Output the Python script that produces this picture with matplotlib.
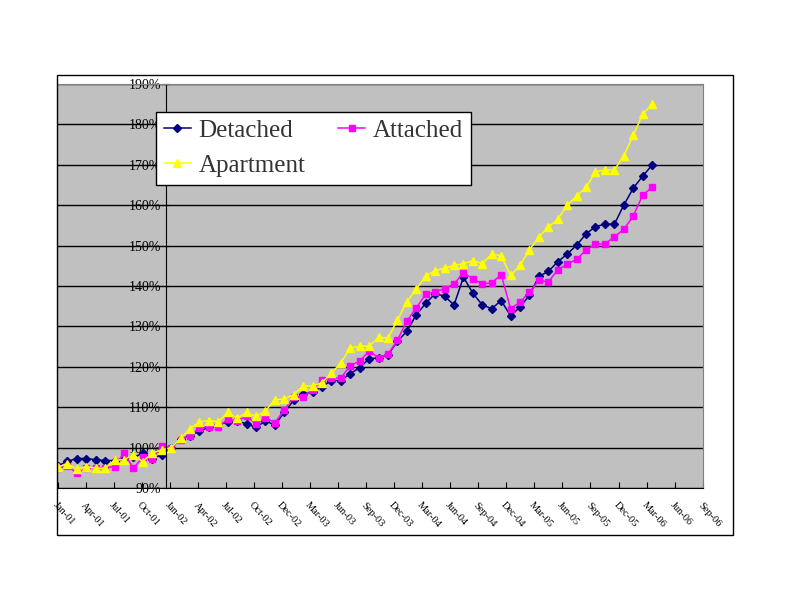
import numpy as np
import matplotlib
matplotlib.use("Agg")
import matplotlib.pyplot as plt
from matplotlib.patches import Rectangle

plt.rcParams['font.family'] = ['Liberation Serif', 'DejaVu Serif']

# monthly index values, Jan-02 = 100%
detached = [95.5, 96.6, 97.3, 97.3, 97.0, 96.8, 96.8, 97.3, 97.6, 98.6, 97.3, 98.2, 100.0,
            102.1, 102.9, 104.1, 105.0, 105.6, 106.4, 106.6, 105.9, 105.0, 106.6, 105.6, 108.7, 111.7, 113.2,
            113.8, 115.1, 116.6, 116.6, 118.3, 119.8, 122.0, 122.2, 123.0, 126.3, 128.8, 132.9, 135.7,
            138.1, 137.5, 135.3, 142.2, 138.2, 135.3, 134.4, 136.4, 132.6, 134.8, 137.7, 142.4,
            143.6, 146.0, 147.9, 150.1, 152.9, 154.7, 155.3, 155.3, 160.0, 164.2, 167.2, 169.9]
attached = [95.0, 95.5, 93.6, 94.9, 95.0, 95.0, 95.3, 98.7, 94.9, 97.6, 97.1, 100.5, 100.0,
            102.0, 102.9, 104.8, 105.2, 105.2, 107.0, 106.6, 107.7, 105.9, 107.4, 106.2, 109.3, 112.6, 112.6,
            114.3, 116.7, 117.2, 117.2, 120.3, 121.4, 123.9, 122.2, 123.1, 126.6, 131.3, 134.6, 138.0,
            138.6, 139.3, 140.5, 143.3, 141.8, 140.5, 140.8, 142.8, 134.4, 136.0, 138.5, 141.4,
            141.0, 144.0, 145.4, 146.6, 148.9, 150.4, 150.4, 152.2, 154.0, 157.3, 162.5, 164.4]
apartment = [95.2, 96.0, 94.7, 95.3, 94.9, 94.9, 96.9, 97.0, 98.2, 96.5, 98.7, 99.4, 100.0,
             102.3, 104.6, 106.4, 106.7, 106.4, 108.7, 107.3, 108.7, 107.7, 109.1, 111.8, 112.1, 113.1, 115.3,
             115.2, 116.1, 118.4, 121.0, 124.7, 125.1, 125.1, 127.3, 127.1, 131.6, 136.1, 139.2, 142.5,
             143.8, 144.4, 145.1, 145.5, 146.3, 145.5, 147.9, 147.5, 142.6, 145.1, 149.0, 152.1,
             154.6, 156.5, 160.0, 162.3, 164.4, 168.3, 168.7, 168.7, 172.2, 177.3, 182.5, 185.0]

tick_labels = ['Jan-01', 'Apr-01', 'Jul-01', 'Oct-01', 'Jan-02', 'Apr-02', 'Jul-02', 'Oct-02',
               'Dec-02', 'Mar-03', 'Jun-03', 'Sep-03', 'Dec-03', 'Mar-04', 'Jun-04', 'Sep-04',
               'Dec-04', 'Mar-05', 'Jun-05', 'Sep-05', 'Dec-05', 'Mar-06', 'Jun-06', 'Sep-06']
y_ticks = list(range(90, 200, 10))

W, H = 792, 612
fig = plt.figure(figsize=(W / 100, H / 100), dpi=100)
fig.patch.set_facecolor('white')

# outer chart border
fig.patches.append(Rectangle((57 / W, 1 - 535 / H), (733 - 57) / W, (535 - 75) / H,
                             transform=fig.transFigure, fill=False,
                             edgecolor='black', linewidth=1))

ax = fig.add_axes([57 / W, 1 - 488 / H, (703 - 57) / W, (488 - 84) / H])
ax.set_facecolor('#C0C0C0')

x = np.arange(len(detached))
l1, = ax.plot(x, detached, color='#000080', marker='D', markersize=4, linewidth=1.1, label='Detached')
l2, = ax.plot(x, attached, color='#FF00FF', marker='s', markersize=4.8, linewidth=1.1, label='Attached')
l3, = ax.plot(x, apartment, color='#FFFF00', marker='^', markersize=5.3, linewidth=1.1, label='Apartment')

step = 2.972
ax.set_xlim(-0.1, 68.4)
ax.set_ylim(90, 190)
ax.set_xticks([k * step for k in range(len(tick_labels))])
ax.set_xticklabels(tick_labels, rotation=-48, ha='left', va='top',
                   rotation_mode='anchor', fontsize=7.5)
ax.set_yticks(y_ticks)
ax.set_yticklabels([f'{v}%' for v in y_ticks], fontsize=7)

ax.yaxis.grid(True, color='black', linewidth=1)
ax.set_axisbelow(True)

ax.spines['left'].set_position(('data', 11.5))
ax.spines['left'].set_color('black')
ax.spines['bottom'].set_color('black')
ax.spines['top'].set_color('#808080')
ax.spines['right'].set_color('#808080')
ax.tick_params(axis='x', direction='in', length=4, pad=9, colors='black')
ax.tick_params(axis='y', direction='inout', length=6, pad=1, colors='black')

# legend: row 1 Detached / Attached, row 2 Apartment
leg = ax.legend([l1, l3, l2], ['Detached', 'Apartment', 'Attached'], ncol=2,
                loc='upper left', bbox_to_anchor=(156 / W, 1 - 112 / H),
                bbox_transform=fig.transFigure, borderaxespad=0,
                fontsize=18, frameon=True, fancybox=False, handlelength=1.1,
                handletextpad=0.3, labelspacing=0.5, borderpad=0.3, columnspacing=1.3)
leg.get_frame().set_edgecolor('black')
leg.get_frame().set_linewidth(1)
leg.get_frame().set_alpha(1)
for t in leg.get_texts():
    t.set_color('#333333')

fig.savefig('out.png', dpi=100)
